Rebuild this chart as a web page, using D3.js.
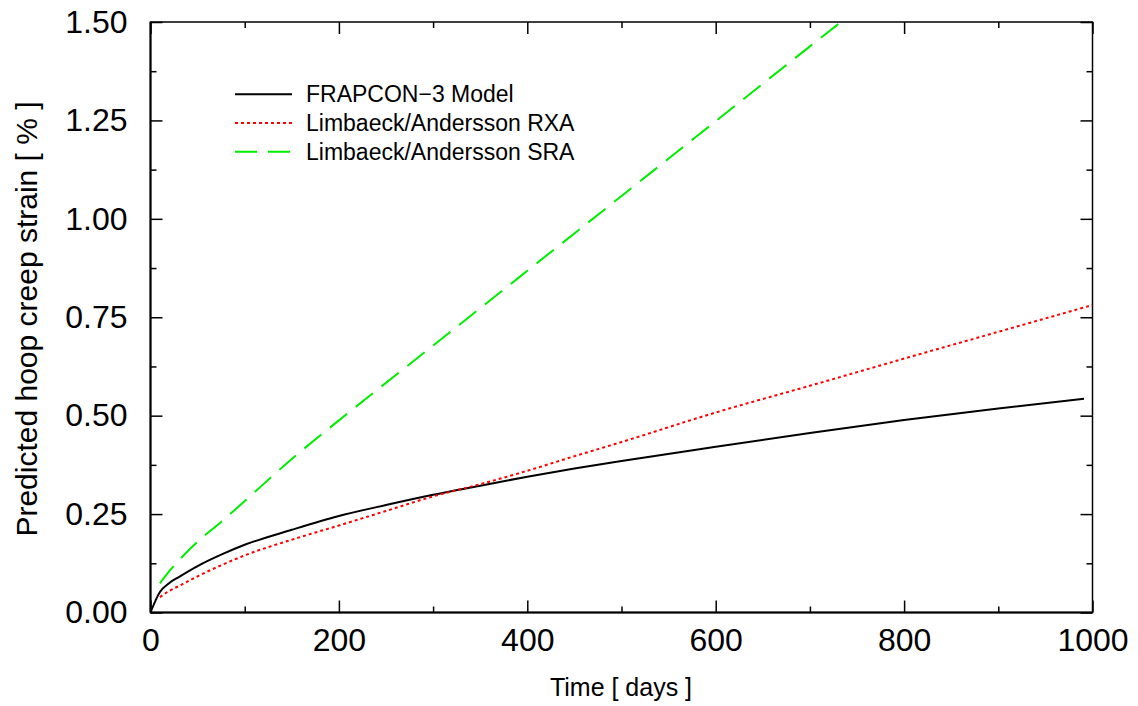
<html>
<head>
<script src="https://cdnjs.cloudflare.com/ajax/libs/d3/7.8.5/d3.min.js"></script>
<style>
  body { margin: 0; background: #fff; }
  text { font-family: "Liberation Sans", Arial, sans-serif; }
</style>
</head>
<body>
<div id="chart"></div>
<script>
// creep strain curves
var frapDays = [0, 10, 20, 30, 50, 75, 100, 150, 200, 250, 300, 350, 400, 450, 500, 600, 700, 800, 900, 991]
var frapVals = [0, 0.052, 0.075, 0.09, 0.118, 0.147, 0.172, 0.21, 0.245, 0.273, 0.299, 0.322, 0.345, 0.366, 0.385, 0.421, 0.456, 0.489, 0.518, 0.543]

var rxaDays = [10, 20, 30, 50, 75, 100, 150, 200, 250, 300, 350, 400, 450, 500, 600, 700, 800, 900, 1000]
var rxaVals = [0.039, 0.055, 0.067, 0.092, 0.12, 0.145, 0.185, 0.221, 0.258, 0.295, 0.326, 0.36, 0.397, 0.433, 0.508, 0.576, 0.645, 0.713, 0.781]

var sraDays = [10, 20, 30, 50, 75, 100, 150, 200, 300, 400, 500, 600, 700, 733]
var sraVals = [0.074, 0.105, 0.132, 0.18, 0.23, 0.283, 0.39, 0.488, 0.678, 0.868, 1.058, 1.248, 1.438, 1.5]

var xMajor = [0, 200, 400, 600, 800, 1000]
var xMinor = [100, 300, 500, 700, 900]
var yMajor = [0, 0.25, 0.5, 0.75, 1.0, 1.25, 1.5]
var yMinor = [0.125, 0.375, 0.625, 0.875, 1.125, 1.375]

var legendNames = ["FRAPCON\u22123 Model", "Limbaeck/Andersson RXA", "Limbaeck/Andersson SRA"]

var W = 1138, H = 706
var pLeft = 150.5, pRight = 1092.5, pTop = 22, pBottom = 612.5

var svg = d3.select("#chart").append("svg")
  .attr("width", W).attr("height", H)

var x = d3.scaleLinear().domain([0, 1000]).range([pLeft, pRight])
var y = d3.scaleLinear().domain([0, 1.5]).range([pBottom, pTop])

// frame
svg.append("rect")
  .attr("x", pLeft).attr("y", pTop)
  .attr("width", pRight - pLeft).attr("height", pBottom - pTop)
  .attr("fill", "none").attr("stroke", "#000").attr("stroke-width", 1.5)

function styleAxis(g) {
  g.select(".domain").remove()
  g.selectAll(".tick line").attr("stroke", "#000").attr("stroke-width", 1.5)
}

// bottom axis
svg.append("g").attr("transform", "translate(0," + pBottom + ")")
  .call(d3.axisBottom(x).tickValues(xMajor).tickSize(-12).tickPadding(16).tickFormat(d3.format("d")))
  .call(styleAxis)
  .selectAll("text").attr("font-size", 32).attr("fill", "#000")
  .attr("font-family", "Liberation Sans, Arial, sans-serif")
svg.append("g").attr("transform", "translate(0," + pBottom + ")")
  .call(d3.axisBottom(x).tickValues(xMinor).tickSize(-6).tickFormat(""))
  .call(styleAxis)
// top axis
svg.append("g").attr("transform", "translate(0," + pTop + ")")
  .call(d3.axisTop(x).tickValues(xMajor).tickSize(-12).tickFormat(""))
  .call(styleAxis)
svg.append("g").attr("transform", "translate(0," + pTop + ")")
  .call(d3.axisTop(x).tickValues(xMinor).tickSize(-6).tickFormat(""))
  .call(styleAxis)

// left axis
svg.append("g").attr("transform", "translate(" + pLeft + ",0)")
  .call(d3.axisLeft(y).tickValues(yMajor).tickSize(-12).tickPadding(23).tickFormat(d3.format(".2f")))
  .call(styleAxis)
  .selectAll("text").attr("font-size", 32).attr("fill", "#000")
  .attr("font-family", "Liberation Sans, Arial, sans-serif")
svg.append("g").attr("transform", "translate(" + pLeft + ",0)")
  .call(d3.axisLeft(y).tickValues(yMinor).tickSize(-6).tickFormat(""))
  .call(styleAxis)
// right axis
svg.append("g").attr("transform", "translate(" + pRight + ",0)")
  .call(d3.axisRight(y).tickValues(yMajor).tickSize(-12).tickFormat(""))
  .call(styleAxis)
svg.append("g").attr("transform", "translate(" + pRight + ",0)")
  .call(d3.axisRight(y).tickValues(yMinor).tickSize(-6).tickFormat(""))
  .call(styleAxis)

// left and bottom edges a bit heavier
svg.append("line").attr("x1", pLeft).attr("x2", pLeft).attr("y1", pTop).attr("y2", pBottom)
  .attr("stroke", "#000").attr("stroke-width", 2)
svg.append("line").attr("x1", pLeft).attr("x2", pRight).attr("y1", pBottom).attr("y2", pBottom)
  .attr("stroke", "#000").attr("stroke-width", 2)

// axis titles
svg.append("text").attr("x", 621).attr("y", 696)
  .attr("text-anchor", "middle").attr("font-size", 25).text("Time [ days ]")
svg.append("text").attr("transform", "translate(37,319) rotate(-90)")
  .attr("text-anchor", "middle").attr("font-size", 30).text("Predicted hoop creep strain [ % ]")

svg.append("clipPath").attr("id", "clip").append("rect")
  .attr("x", pLeft).attr("y", pTop).attr("width", pRight - pLeft).attr("height", pBottom - pTop)

var line = d3.line().curve(d3.curveMonotoneX)
  .x(function(d){ return x(d[0]) }).y(function(d){ return y(d[1]) })

var series = [
  {days: frapDays, vals: frapVals, color: "#000000", dash: null},
  {days: rxaDays, vals: rxaVals, color: "#ff0000", dash: "3,3"},
  {days: sraDays, vals: sraVals, color: "#00ee00", dash: "22,11"}
]

series.forEach(function(s, i){
  var pts = s.days.map(function(d, j){ return [d, s.vals[j]] })
  svg.append("path").datum(pts)
    .attr("d", line)
    .attr("clip-path", "url(#clip)")
    .attr("fill", "none")
    .attr("stroke", s.color)
    .attr("stroke-width", 2)
    .attr("stroke-dasharray", s.dash)

  // legend entry
  var ly = 94.3 + i * 28.7
  svg.append("line").attr("x1", 235).attr("x2", 292).attr("y1", ly).attr("y2", ly)
    .attr("stroke", s.color).attr("stroke-width", 2).attr("stroke-dasharray", s.dash)
  svg.append("text").attr("x", 306).attr("y", ly + 8)
    .attr("font-size", 23).text(legendNames[i])
})
</script>
</body>
</html>
